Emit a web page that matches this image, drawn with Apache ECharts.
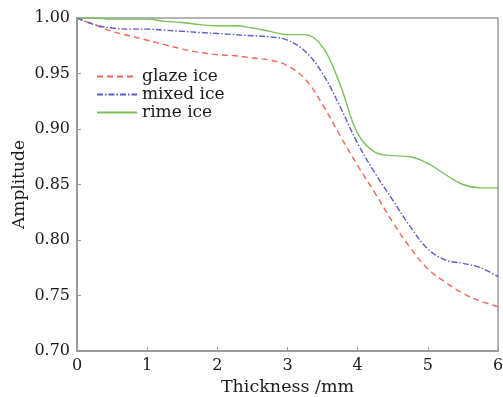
<!DOCTYPE html>
<html>
<head>
<meta charset="utf-8">
<script src="https://cdn.jsdelivr.net/npm/echarts@6/dist/echarts.min.js"></script>
<style>
  html, body { margin: 0; padding: 0; background: #fff; }
  #chart { width: 503px; height: 397px; }
</style>
</head>
<body>
<div id="chart"></div>
<script>
// Ice thickness (mm) sampled every 0.25 mm
const thickness = [0, 0.25, 0.5, 0.75, 1, 1.25, 1.5, 1.75, 2, 2.25, 2.5, 2.75, 3,
  3.25, 3.5, 3.75, 4, 4.25, 4.5, 4.75, 5, 5.25, 5.5, 5.75, 6];

const glazeIce = [1.000, 0.994, 0.988, 0.984, 0.980, 0.976, 0.972, 0.969, 0.967, 0.966,
  0.964, 0.962, 0.957, 0.945, 0.922, 0.894, 0.867, 0.842, 0.816, 0.793, 0.774, 0.762,
  0.752, 0.745, 0.740];

const mixedIce = [1.000, 0.994, 0.991, 0.990, 0.990, 0.989, 0.988, 0.987, 0.986, 0.985,
  0.984, 0.983, 0.980, 0.970, 0.950, 0.920, 0.887, 0.860, 0.836, 0.812, 0.792, 0.782,
  0.779, 0.775, 0.767];

const rimeIce = [1.000, 1.000, 0.999, 0.999, 0.999, 0.997, 0.996, 0.994, 0.993, 0.993,
  0.991, 0.988, 0.985, 0.985, 0.974, 0.940, 0.896, 0.879, 0.876, 0.875, 0.869, 0.859,
  0.850, 0.847, 0.847];

const seriesNames = ['glaze ice', 'mixed ice', 'rime ice'];
const xTicks = [0, 1, 2, 3, 4, 5, 6];

const FONT = 'DejaVu Serif';
const TEXT = '#1a1a1a';
const AXIS = '#9a9a9a';
const pair = (ys) => thickness.map((x, i) => [x, ys[i]]);

const chart = echarts.init(document.getElementById('chart'), null, { renderer: 'canvas' });

function lineSeries(name, ys, color, type) {
  return {
    name: name,
    type: 'line',
    data: pair(ys),
    smooth: 0.4,
    symbol: 'none',
    lineStyle: { color: color, width: 1.4, type: type },
    itemStyle: { color: color }
  };
}

chart.setOption({
  animation: false,
  backgroundColor: '#fff',
  grid: {
    left: 77, right: 5, top: 18, bottom: 46,
    outerBoundsMode: 'none',
    containLabel: false,
    show: true, borderColor: AXIS, borderWidth: 1.5
  },
  legend: {
    data: seriesNames,
    orient: 'vertical',
    left: 91, top: 63,
    itemWidth: 40, itemHeight: 10, itemGap: 1,
    itemStyle: { opacity: 0 },
    textStyle: { fontFamily: FONT, fontSize: 17, color: TEXT }
  },
  xAxis: {
    type: 'value',
    min: 0, max: 6, interval: 1,
    name: 'Thickness /mm',
    nameLocation: 'middle',
    nameGap: 26,
    nameTextStyle: { fontFamily: FONT, fontSize: 17.5, color: TEXT },
    axisLine: { lineStyle: { color: AXIS, width: 2 } },
    axisTick: { inside: true, length: 4, lineStyle: { color: AXIS } },
    axisLabel: {
      fontFamily: FONT, fontSize: 16, color: TEXT, margin: 7,
      formatter: (v) => xTicks.includes(v) ? String(v) : ''
    },
    splitLine: { show: false }
  },
  yAxis: {
    type: 'value',
    min: 0.70, max: 1.00, interval: 0.05,
    name: 'Amplitude',
    nameLocation: 'middle',
    nameMoveOverlap: false,
    nameGap: 49,
    nameTextStyle: { fontFamily: FONT, fontSize: 17, color: TEXT },
    axisLine: { show: true, lineStyle: { color: AXIS, width: 2 } },
    axisTick: { show: true, inside: true, length: 4, lineStyle: { color: AXIS } },
    axisLabel: {
      fontFamily: FONT, fontSize: 16, color: TEXT, margin: 7,
      formatter: (v) => v.toFixed(2)
    },
    splitLine: { show: false }
  },
  series: [
    lineSeries(seriesNames[0], glazeIce, '#f7665c', [6, 4]),
    lineSeries(seriesNames[1], mixedIce, '#5a5ad2', [6, 2, 1.5, 2]),
    lineSeries(seriesNames[2], rimeIce, '#78c05a', 'solid')
  ]
});
</script>
</body>
</html>
